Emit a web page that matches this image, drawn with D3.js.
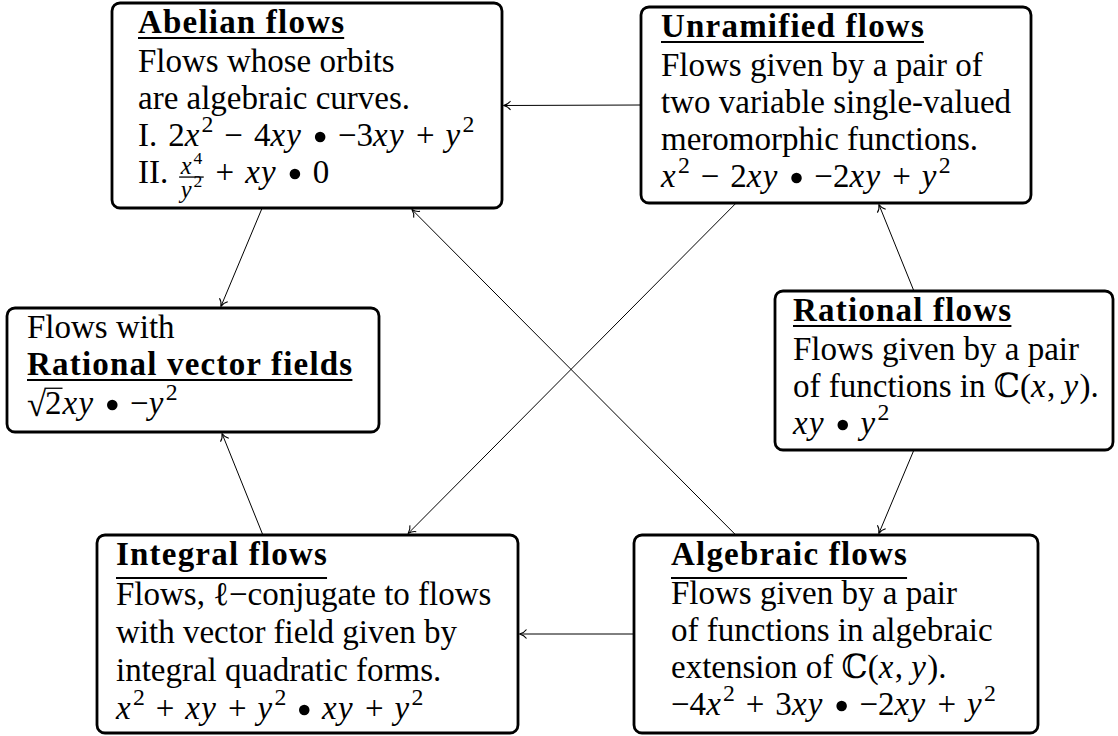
<!DOCTYPE html>
<html>
<head>
<meta charset="utf-8">
<script src="https://cdn.jsdelivr.net/npm/d3@7"></script>
<style>
  body { margin: 0; background: #fff; }
  svg { display: block; }
  text { white-space: pre; }
</style>
</head>
<body>
<svg id="chart" width="1118" height="736"></svg>
<script>
// Box texts. **..** = bold underlined title, $..$ = math italic,
// ^n = superscript, {a/b} = fraction, √n = square root, • = bullet
const abelianText = [
  "**Abelian flows**",
  "Flows whose orbits",
  "are algebraic curves.",
  "I. 2$x$^2 − 4$xy$ • −3$xy$ + $y$^2",
  "II. {$x$^4/$y$^2} + $xy$ • 0"
];
const unramifiedText = [
  "**Unramified flows**",
  "Flows given by a pair of",
  "two variable single-valued",
  "meromorphic functions.",
  "$x$^2 − 2$xy$ • −2$xy$ + $y$^2"
];
const vectorText = [
  "Flows with",
  "**Rational vector fields**",
  "√2$xy$ • −$y$^2"
];
const rationalText = [
  "**Rational flows**",
  "Flows given by a pair",
  "of functions in ℂ($x$, $y$).",
  "$xy$ • $y$^2"
];
const integralText = [
  "**Integral flows**",
  "Flows, ℓ−conjugate to flows",
  "with vector field given by",
  "integral quadratic forms.",
  "$x$^2 + $xy$ + $y$^2 • $xy$ + $y$^2"
];
const algebraicText = [
  "**Algebraic flows**",
  "Flows given by a pair",
  "of functions in algebraic",
  "extension of ℂ($x$, $y$).",
  "−4$x$^2 + 3$xy$ • −2$xy$ + $y$^2"
];

const boxNames = ["abelian", "unramified", "vector", "rational", "integral", "algebraic"];
const boxTexts = [abelianText, unramifiedText, vectorText, rationalText, integralText, algebraicText];

// Implications between classes: [from, side, position, to, side, position]
const edges = [
  ["unramified", "left", 0.5, "abelian", "right", 0.5],
  ["abelian", "bottom", 0.385, "vector", "top", 0.575],
  ["unramified", "bottom", 0.244, "integral", "top", 0.739],
  ["algebraic", "top", 0.252, "abelian", "bottom", 0.769],
  ["rational", "top", 0.411, "unramified", "bottom", 0.61],
  ["rational", "bottom", 0.411, "algebraic", "top", 0.606],
  ["algebraic", "left", 0.5, "integral", "right", 0.5],
  ["integral", "top", 0.394, "vector", "bottom", 0.578]
];

// Layout of the boxes (pixels)
const layout = {
  abelian:    {x: 112, y: 3,   w: 390, h: 205, pad: 26, lead: 37},
  unramified: {x: 641, y: 7,   w: 390, h: 196, pad: 20, lead: 37},
  vector:     {x: 7,   y: 308, w: 372, h: 124, pad: 20, lead: 37},
  rational:   {x: 775, y: 291, w: 338, h: 159, pad: 18, lead: 37},
  integral:   {x: 97,  y: 535, w: 421, h: 198, pad: 19, lead: 38},
  algebraic:  {x: 634, y: 535, w: 404, h: 198, pad: 37, lead: 37}
};

const FONT = "'Liberation Serif', 'DejaVu Serif', serif";
const SIZE = 33;

const svg = d3.select("#chart");

svg.append("defs").append("marker")
  .attr("id", "arrow")
  .attr("markerUnits", "userSpaceOnUse")
  .attr("viewBox", "-9 -6 11 12")
  .attr("markerWidth", 11)
  .attr("markerHeight", 12)
  .attr("refX", 0).attr("refY", 0)
  .attr("orient", "auto")
  .append("path")
  .attr("d", "M-7,-4.5 C-5,-1.6 -2,-0.5 0,0 C-2,0.5 -5,1.6 -7,4.5")
  .attr("fill", "none")
  .attr("stroke", "#000")
  .attr("stroke-width", 1.1);

function anchor(name, side, f, out) {
  const b = layout[name];
  if (side === "left") return [b.x - out, b.y + f * b.h];
  if (side === "right") return [b.x + b.w + out, b.y + f * b.h];
  if (side === "top") return [b.x + f * b.w, b.y - out];
  return [b.x + f * b.w, b.y + b.h + out];
}

// Arrows
svg.append("g").selectAll("line")
  .data(edges)
  .join("line")
  .each(function(d) {
    const p0 = anchor(d[0], d[1], d[2], 0);
    const p1 = anchor(d[3], d[4], d[5], 1.5);
    d3.select(this)
      .attr("x1", p0[0]).attr("y1", p0[1])
      .attr("x2", p1[0]).attr("y2", p1[1]);
  })
  .attr("stroke", "#000")
  .attr("stroke-width", 1)
  .attr("marker-end", "url(#arrow)");

// Draw one piece of text, return its width
function piece(g, str, x, y, size, style, ws) {
  const t = g.append("text")
    .attr("x", x).attr("y", y)
    .attr("font-family", FONT)
    .attr("font-size", size)
    .text(str);
  if (style === "i") t.attr("font-style", "italic").attr("letter-spacing", size * 0.04);
  if (style === "b") t.attr("font-weight", "bold").attr("letter-spacing", 1.2);
  if (ws) t.attr("word-spacing", ws);
  return t.node().getComputedTextLength();
}

// Render a line with light math markup, return end x
function renderLine(g, str, x, y, size) {
  const tokens = str.split(/(\{[^}]*\}|\$[^$]+\$|\^\d|√\d|•)/).filter(s => s);
  const ws = str.includes("•") ? size * 0.08 : 0;
  let cx = x;
  tokens.forEach(tok => {
    if (tok[0] === "{") {
      const parts = tok.slice(1, -1).split("/");
      const small = size * 0.74;
      const tmp = g.append("g").attr("opacity", 0);
      const wn = renderLine(tmp, parts[0], 0, 0, small);
      const wd = renderLine(tmp, parts[1], 0, 0, small);
      tmp.remove();
      const w = Math.max(wn, wd) + 3;
      renderLine(g, parts[0], cx + (w - wn) / 2, y - size * 0.28, small);
      renderLine(g, parts[1], cx + (w - wd) / 2, y + size * 0.44, small);
      g.append("line")
        .attr("x1", cx).attr("x2", cx + w)
        .attr("y1", y - size * 0.18).attr("y2", y - size * 0.18)
        .attr("stroke", "#000").attr("stroke-width", 1.3);
      cx += w + 1;
    } else if (tok[0] === "$") {
      cx += piece(g, tok.slice(1, -1), cx, y, size, "i");
    } else if (tok[0] === "^") {
      cx += piece(g, tok[1], cx + 1, y - size * 0.42, size * 0.72, "r") + 1;
    } else if (tok === "•") {
      const bw = size * 0.42;
      g.append("circle")
        .attr("cx", cx + bw / 2).attr("cy", y - size * 0.27)
        .attr("r", size * 0.16)
        .attr("fill", "#000");
      cx += bw;
    } else if (tok[0] === "√") {
      const wsq = piece(g, "√", cx, y + 2, size * 1.05, "r");
      const wdig = piece(g, tok[1], cx + wsq - 1, y, size, "r");
      g.append("line")
        .attr("x1", cx + wsq - 1.5).attr("x2", cx + wsq + wdig)
        .attr("y1", y - size * 0.78).attr("y2", y - size * 0.78)
        .attr("stroke", "#000").attr("stroke-width", 1.3);
      cx += wsq + wdig;
    } else {
      cx += piece(g, tok, cx, y, size, "r", ws);
    }
  });
  return cx;
}

// Boxes
boxNames.forEach((name, i) => {
  const b = layout[name];
  const g = svg.append("g").attr("class", "box");
  g.append("rect")
    .attr("x", b.x).attr("y", b.y)
    .attr("width", b.w).attr("height", b.h)
    .attr("rx", 8).attr("ry", 8)
    .attr("fill", "#fff")
    .attr("stroke", "#000")
    .attr("stroke-width", 2.8);

  let by = b.y + 30;
  boxTexts[i].forEach(line => {
    const x0 = b.x + b.pad;
    if (line.startsWith("**")) {
      const title = line.slice(2, -2);
      const w = piece(g, title, x0, by, SIZE, "b");
      const uy = by + (/[gjpqy]/.test(title) ? 13 : 5);
      g.append("line")
        .attr("x1", x0).attr("x2", x0 + w - 1)
        .attr("y1", uy).attr("y2", uy)
        .attr("stroke", "#000").attr("stroke-width", 2);
      by += b.lead + 2;
    } else {
      renderLine(g, line, x0, by, SIZE);
      by += b.lead;
    }
  });
});

// keep arrows visible above box fills
svg.selectAll(".box").lower();
</script>
</body>
</html>
